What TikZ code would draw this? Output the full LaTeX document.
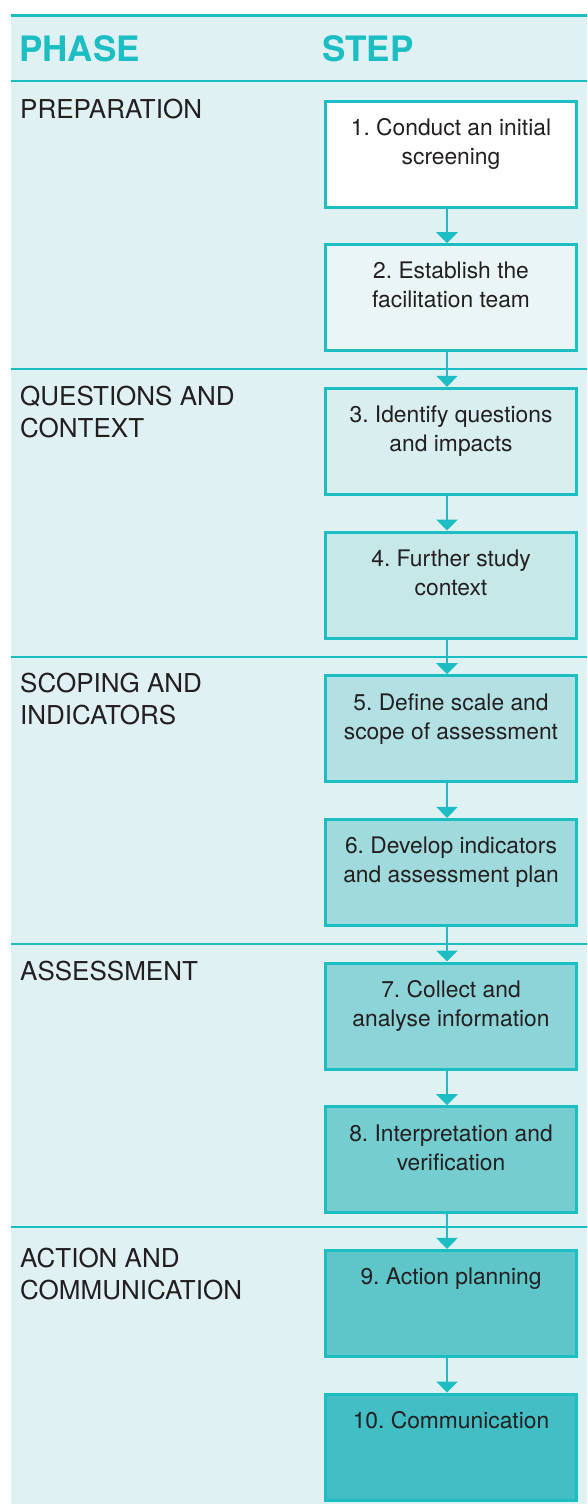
\documentclass[tikz,border=0pt]{standalone}
\usepackage{fontspec}
\setmainfont{TeX Gyre Heros}
\usetikzlibrary{arrows.meta}
\frenchspacing

\definecolor{panel}{HTML}{E0F1F4}
\definecolor{teal}{HTML}{1DBEC3}
\definecolor{ink}{HTML}{231F20}
\definecolor{f1}{HTML}{FFFFFF}
\definecolor{f2}{HTML}{EAF6F6}
\definecolor{f3}{HTML}{D8EEEF}
\definecolor{f4}{HTML}{C6E8E9}
\definecolor{f5}{HTML}{B3E0E2}
\definecolor{f6}{HTML}{A0DADC}
\definecolor{f7}{HTML}{8CD4D7}
\definecolor{f8}{HTML}{75CDD0}
\definecolor{f9}{HTML}{5EC5C9}
\definecolor{f10}{HTML}{43BEC4}

\tikzset{
  stepbox/.style={draw=teal, line width=3pt, minimum width=251pt, minimum height=106pt,
    inner sep=0pt, anchor=north},
  steptext/.style={anchor=north, align=center, inner sep=0pt, text=ink,
    font=\fontsize{22.8}{29}\selectfont},
  phasetext/.style={anchor=north west, align=left, inner sep=0pt, text=ink,
    font=\fontsize{26}{32}\selectfont},
  headtext/.style={anchor=base west, inner sep=0pt, text=teal,
    font=\fontsize{35}{40}\selectfont\bfseries},
  rule/.style={draw=teal, line width=1.5pt},
  flow/.style={draw=teal, line width=2.8pt, -{Triangle[width=21pt,length=11pt]}}
}

\begin{document}
\begin{tikzpicture}[x=1pt, y=-1pt]
  \useasboundingbox (0,0) rectangle (587,1504);
  \fill[white] (0,0) rectangle (587,1504);
  \fill[panel] (11,16) rectangle (587,1504);

  % top rule and section dividers
  \draw[teal, line width=3pt] (11,16) -- (587,16);
  \foreach \yy in {81,369,657,944,1227}
    \draw[rule] (11,\yy) -- (587,\yy);

  % column headings
  \node[headtext] (hphase) at (19,62) {PHASE};
  \node[headtext] (hstep) at (322,62) {STEP};

  % phases
  \node[phasetext] (p1) at (20,99)   {PREPARATION};
  \node[phasetext] (p2) at (20,386)  {QUESTIONS AND\\CONTEXT};
  \node[phasetext] (p3) at (20,673)  {SCOPING AND\\INDICATORS};
  \node[phasetext] (p4) at (20,961)  {ASSESSMENT};
  \node[phasetext] (p5) at (20,1248) {ACTION AND\\COMMUNICATION};

  % step boxes
  \foreach \i/\fc in {1/f1,2/f2,3/f3,4/f4,5/f5,6/f6,7/f7,8/f8,9/f9,10/f10}
    \node[stepbox, fill=\fc] (s\i) at (451, {99.5 + 143.67*(\i-1)}) {};

  % step texts
  \node[steptext] (t1)  at ([yshift=-19pt]s1.north)  {1. Conduct an initial\\screening};
  \node[steptext] (t2)  at ([yshift=-19pt]s2.north)  {2. Establish the\\facilitation team};
  \node[steptext] (t3)  at ([yshift=-19pt]s3.north)  {3. Identify questions\\and impacts};
  \node[steptext] (t4)  at ([yshift=-19pt]s4.north)  {4. Further study\\context};
  \node[steptext] (t5)  at ([yshift=-19pt]s5.north)  {5. Define scale and\\scope of assessment};
  \node[steptext] (t6)  at ([yshift=-19pt]s6.north)  {6. Develop indicators\\and assessment plan};
  \node[steptext] (t7)  at ([yshift=-19pt]s7.north)  {7. Collect and\\analyse information};
  \node[steptext] (t8)  at ([yshift=-19pt]s8.north)  {8. Interpretation and\\verification};
  \node[steptext] (t9)  at ([yshift=-19pt]s9.north)  {9. Action planning};
  \node[steptext] (t10) at ([yshift=-19pt]s10.north) {10. Communication};

  % connectors, set slightly left of the box centre line
  \foreach \a/\b in {1/2,2/3,3/4,4/5,5/6,6/7,7/8,8/9,9/10}
    \draw[flow] ([xshift=-4pt]s\a.south) -- ([xshift=-4pt]s\b.north);
\end{tikzpicture}
\end{document}
